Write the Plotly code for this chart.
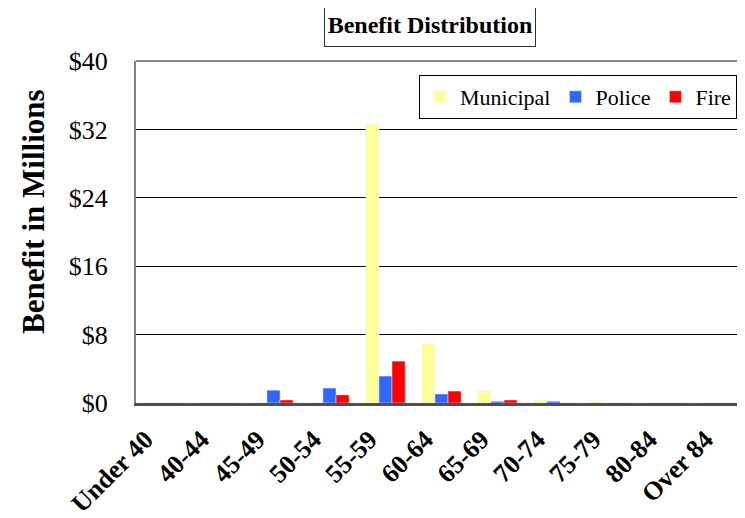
import plotly.graph_objects as go

categories = ["Under 40", "40-44", "45-49", "50-54", "55-59", "60-64",
              "65-69", "70-74", "75-79", "80-84", "Over 84"]
municipal = [0, 0, 0, 0, 32.6, 6.9, 1.4, 0.35, 0.2, 0, 0]
police = [0, 0, 1.5, 1.75, 3.15, 1.05, 0.2, 0.2, 0, 0, 0]
fire = [0, 0, 0.35, 0.95, 4.9, 1.4, 0.35, 0, 0, 0, 0]
y_tickvals = [0, 8, 16, 24, 32, 40]
y_ticktext = ["$0", "$8", "$16", "$24", "$32", "$40"]

FONT = "Liberation Serif, Times New Roman, serif"

fig = go.Figure()
fig.add_trace(go.Bar(name="Municipal", x=categories, y=municipal, marker_color="#FFFF99"))
fig.add_trace(go.Bar(name="Police", x=categories, y=police, marker_color="#3366FF"))
fig.add_trace(go.Bar(name="Fire", x=categories, y=fire, marker_color="#FF0000"))

# page body has an 8px margin: figure is 737x510, plot area at screen x 136..745, y 61..403
fig.update_layout(
    width=737, height=510,
    margin=dict(l=128, r=0, t=53, b=115, autoexpand=False),
    paper_bgcolor="white", plot_bgcolor="white",
    barmode="group", bargap=0.3, bargroupgap=0,
    font=dict(family=FONT, color="black"),
    showlegend=True,
    legend=dict(orientation="h", x=(737 - 136) / 609, xanchor="right",
                y=1 - (75 - 61) / 342, yanchor="top",
                bordercolor="black", borderwidth=1, bgcolor="white",
                font=dict(size=22, family=FONT)),
    annotations=[
        dict(text="<b>Benefit Distribution</b>", xref="paper", yref="paper",
             x=(430 - 136) / 609, y=1 + (61 - 24.5) / 342, xanchor="center", yanchor="middle",
             showarrow=False, font=dict(size=24, family=FONT), width=204, height=36,
             bordercolor="#333333", borderwidth=1, borderpad=3, bgcolor="white"),
        dict(text="<b>Benefit in Millions</b>", xref="paper", yref="paper",
             x=(33 - 136) / 609, y=(403 - 212) / 342, xanchor="center", yanchor="middle",
             textangle=-90, showarrow=False, font=dict(size=31, family=FONT)),
    ],
    shapes=[dict(type="line", xref="paper", yref="paper", x0=0, x1=1, y0=1, y1=1,
                 line=dict(color="#888888", width=2))],
)
fig.update_xaxes(
    range=[-0.455, 10.42], automargin=False,
    tickangle=-45, tickfont=dict(size=26, family=FONT), showline=True,
    linecolor="#505050", linewidth=3, showgrid=False,
    ticks="outside", ticklen=8, tickcolor="rgba(0,0,0,0)",
    tickprefix="<b>", ticksuffix="</b>",
    ticklabelshift=-16,
)
fig.update_yaxes(
    range=[0, 40], tickvals=y_tickvals, ticktext=y_ticktext, automargin=False,
    tickfont=dict(size=26, family=FONT), showgrid=True, gridcolor="black", gridwidth=1,
    showline=True, linecolor="#808080", linewidth=2, zeroline=False,
    ticklabelstandoff=21,
)
fig.write_html("out.html")
